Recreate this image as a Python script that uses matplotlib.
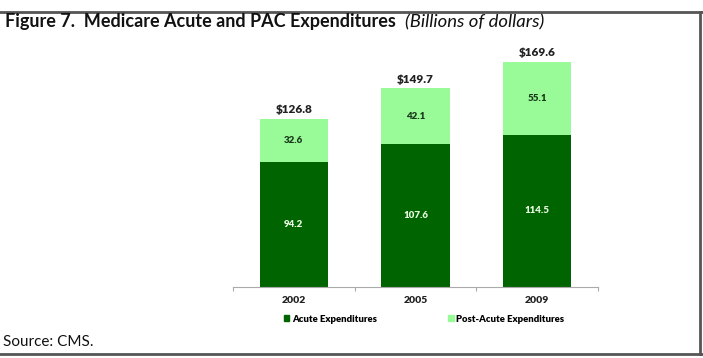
import matplotlib
matplotlib.use("Agg")
import matplotlib.pyplot as plt
from matplotlib.lines import Line2D
from matplotlib.patches import Patch

years = ["2002", "2005", "2009"]
acute = [94.2, 107.6, 114.5]
post_acute = [32.6, 42.1, 55.1]
totals = [126.8, 149.7, 169.6]
total_labels = ["$126.8", "$149.7", "$169.6"]

dark = "#006400"
light = "#98FB98"

plt.rcParams["font.family"] = ["Lato", "DejaVu Sans"]

W, H = 703, 358
fig = plt.figure(figsize=(W / 100, H / 100), dpi=100)

ax = fig.add_axes([233 / W, 1 - 287 / H, (598 - 233) / W, (287 - 48) / H])
x = list(range(len(years)))
ax.bar(x, acute, width=0.56, color=dark)
ax.bar(x, post_acute, bottom=acute, width=0.56, color=light)
ax.set_xlim(-0.5, len(years) - 0.5)
ax.set_ylim(0, 180)

for i in x:
    ax.text(i, acute[i] / 2, f"{acute[i]:.1f}", ha="center", va="center",
            fontsize=7, fontweight="heavy", color="#e8f8e0")
    ax.text(i, acute[i] + post_acute[i] / 2, f"{post_acute[i]:.1f}", ha="center",
            va="center", fontsize=7, fontweight="heavy", color="#1a3a1a")
    ax.text(i, totals[i] + 2.5, total_labels[i], ha="center", va="bottom",
            fontsize=8.5, fontweight="heavy", color="#222222")

for s in ["left", "right", "top"]:
    ax.spines[s].set_visible(False)
ax.spines["bottom"].set_color("#aaaaaa")
ax.set_yticks([])
ax.set_xticks([-0.5, 0.5, 1.5, 2.5], minor=False)
ax.set_xticklabels([])
ax.tick_params(axis="x", length=3, color="#aaaaaa")
for i in x:
    ax.text(i, -7, years[i], ha="center", va="top", fontsize=7.5, fontweight="heavy",
            color="#222222")

handles = [Patch(color=dark, label="Acute Expenditures"),
           Patch(color=light, label="Post-Acute Expenditures")]
fig.legend(handles=handles, loc="center", bbox_to_anchor=(424 / W, 1 - 319 / H),
           ncol=2, frameon=False, handlelength=0.6, handleheight=0.6,
           handletextpad=0.3, columnspacing=7.5, prop={"weight": "heavy", "size": 6.8})

fig.text(5 / W, 1 - 22 / H, "Figure 7.  Medicare Acute and PAC Expenditures", fontsize=13,
         fontweight="bold", va="center", ha="left", color="#111111")
fig.text(405 / W, 1 - 22 / H, "(Billions of dollars)", fontsize=13.3, style="italic",
         va="center", ha="left", color="#111111")
fig.text(3 / W, 1 - 342 / H, "Source: CMS.", fontsize=11, va="center", ha="left",
         color="#111111")

fig.add_artist(Line2D([0, 1], [1 - 12 / H, 1 - 12 / H], transform=fig.transFigure,
                      color="#555555", lw=2))
fig.add_artist(Line2D([0, 1], [1 - 354 / H, 1 - 354 / H], transform=fig.transFigure,
                      color="#555555", lw=2))
fig.add_artist(Line2D([700 / W, 700 / W], [1 - 12 / H, 1 - 354 / H],
                      transform=fig.transFigure, color="#555555", lw=2))

fig.savefig("out.png", dpi=100)
